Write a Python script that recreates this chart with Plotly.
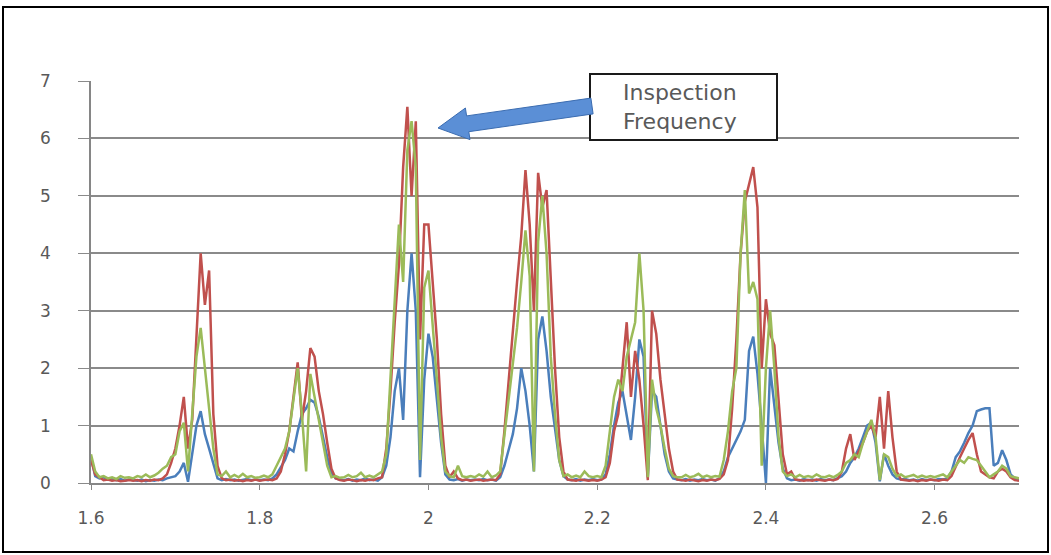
import numpy as np
import plotly.graph_objects as go

# x grid (frequency), step 0.005 from 1.6 to 2.7
freq = np.round(np.arange(1.6, 2.70001, 0.005), 4)

x_tick_vals = [1.6, 1.8, 2.0, 2.2, 2.4, 2.6]
x_tick_text = ["1.6", "1.8", "2", "2.2", "2.4", "2.6"]
y_tick_vals = [0, 1, 2, 3, 4, 5, 6, 7]

blue = [
    0.45, 0.12, 0.08, 0.10, 0.06, 0.08, 0.05, 0.07, 0.04, 0.06,
    0.05, 0.04, 0.06, 0.03, 0.05, 0.04, 0.06, 0.05, 0.08, 0.10,
    0.12, 0.20, 0.35, 0.02, 0.55, 1.00, 1.25, 0.85, 0.60, 0.35,
    0.08, 0.05, 0.07, 0.05, 0.06, 0.04, 0.05, 0.07, 0.05, 0.06,
    0.05, 0.06, 0.05, 0.08, 0.15, 0.28, 0.40, 0.60, 0.55, 0.90,
    1.20, 1.30, 1.45, 1.40, 1.15, 0.80, 0.45, 0.18, 0.08, 0.06,
    0.05, 0.07, 0.04, 0.06, 0.05, 0.08, 0.05, 0.06, 0.04, 0.10,
    0.30, 0.80, 1.60, 2.00, 1.10, 3.00, 4.00, 3.00, 0.10, 1.80,
    2.60, 2.20, 1.50, 0.70, 0.15, 0.06, 0.05, 0.07, 0.04, 0.06,
    0.05, 0.06, 0.05, 0.07, 0.05, 0.06, 0.04, 0.10, 0.30, 0.60,
    0.85, 1.30, 2.00, 1.60, 1.00, 0.20, 2.50, 2.90, 2.30, 1.50,
    0.90, 0.40, 0.12, 0.06, 0.05, 0.07, 0.04, 0.06, 0.05, 0.07,
    0.05, 0.06, 0.15, 0.50, 1.00, 1.40, 1.60, 1.20, 0.75, 1.50,
    2.50, 2.20, 0.10, 1.60, 1.50, 1.00, 0.50, 0.20, 0.08, 0.06,
    0.05, 0.07, 0.04, 0.06, 0.05, 0.07, 0.05, 0.06, 0.04, 0.08,
    0.20, 0.45, 0.60, 0.75, 0.90, 1.10, 2.30, 2.55, 1.90, 1.00,
    0.00, 2.00, 1.40, 0.70, 0.25, 0.08, 0.05, 0.06, 0.04, 0.07,
    0.05, 0.06, 0.04, 0.07, 0.05, 0.06, 0.05, 0.08, 0.12, 0.20,
    0.35, 0.45, 0.60, 0.80, 1.00, 1.05, 0.70, 0.03, 0.50, 0.30,
    0.15, 0.08, 0.06, 0.07, 0.05, 0.06, 0.04, 0.07, 0.05, 0.06,
    0.05, 0.07, 0.06, 0.08, 0.20, 0.45, 0.55, 0.70, 0.87, 1.00,
    1.25, 1.28, 1.30, 1.30, 0.30, 0.35, 0.57, 0.40, 0.15, 0.08,
    0.05,
]

red = [
    0.40, 0.15, 0.10, 0.05, 0.06, 0.04, 0.05, 0.03, 0.04, 0.05,
    0.04, 0.05, 0.03, 0.05, 0.04, 0.06, 0.05, 0.08, 0.15, 0.35,
    0.60, 1.00, 1.50, 0.60, 1.10, 2.60, 4.00, 3.10, 3.70, 1.20,
    0.30, 0.08, 0.05, 0.06, 0.04, 0.05, 0.03, 0.05, 0.04, 0.06,
    0.04, 0.05, 0.06, 0.05, 0.08, 0.20, 0.50, 0.90, 1.50, 2.10,
    1.10, 1.60, 2.35, 2.20, 1.60, 1.20, 0.70, 0.25, 0.08, 0.05,
    0.04, 0.06, 0.05, 0.03, 0.05, 0.04, 0.06, 0.05, 0.08, 0.10,
    0.60, 1.60, 2.80, 3.80, 5.50, 6.55, 5.00, 6.30, 2.50, 4.50,
    4.50, 3.50, 2.50, 1.20, 0.30, 0.10, 0.20, 0.08, 0.05, 0.06,
    0.04, 0.05, 0.06, 0.04, 0.05, 0.06, 0.05, 0.15, 0.90, 1.80,
    2.60, 3.50, 4.30, 5.45, 4.50, 3.00, 5.40, 4.80, 5.10, 3.50,
    2.00, 0.80, 0.20, 0.06, 0.05, 0.04, 0.06, 0.05, 0.04, 0.05,
    0.04, 0.06, 0.10, 0.35, 0.90, 1.20, 2.00, 2.80, 1.50, 2.30,
    1.80, 1.00, 0.05, 3.00, 2.60, 1.80, 1.20, 0.60, 0.20, 0.06,
    0.05, 0.04, 0.06, 0.05, 0.03, 0.05, 0.04, 0.06, 0.05, 0.07,
    0.15, 0.40, 1.30, 2.50, 4.00, 4.90, 5.20, 5.50, 4.80, 2.00,
    3.20, 2.60, 2.40, 1.40, 0.50, 0.15, 0.20, 0.06, 0.05, 0.04,
    0.05, 0.04, 0.06, 0.05, 0.04, 0.06, 0.05, 0.07, 0.20, 0.60,
    0.85, 0.40, 0.55, 0.70, 0.90, 1.00, 0.80, 1.50, 0.60, 1.60,
    0.80, 0.20, 0.06, 0.05, 0.04, 0.05, 0.03, 0.05, 0.04, 0.06,
    0.05, 0.04, 0.06, 0.05, 0.12, 0.30, 0.45, 0.60, 0.75, 0.87,
    0.50, 0.20, 0.15, 0.10, 0.08, 0.20, 0.25, 0.20, 0.10, 0.05,
    0.04,
]

green = [
    0.50, 0.20, 0.10, 0.12, 0.08, 0.10, 0.07, 0.12, 0.09, 0.10,
    0.08, 0.12, 0.10, 0.15, 0.10, 0.13, 0.18, 0.25, 0.30, 0.45,
    0.50, 0.90, 1.05, 0.20, 1.20, 2.20, 2.70, 2.00, 1.30, 0.60,
    0.15, 0.12, 0.20, 0.10, 0.14, 0.10, 0.16, 0.10, 0.12, 0.09,
    0.10, 0.13, 0.10, 0.15, 0.30, 0.45, 0.60, 0.90, 1.50, 2.00,
    1.20, 0.20, 1.90, 1.50, 1.10, 0.70, 0.30, 0.10, 0.12, 0.09,
    0.10, 0.14, 0.10, 0.12, 0.18, 0.10, 0.13, 0.10, 0.15, 0.20,
    0.50, 1.80, 3.20, 4.50, 3.50, 5.80, 6.30, 5.50, 0.40, 3.40,
    3.70, 2.80, 1.80, 0.80, 0.20, 0.12, 0.10, 0.30, 0.12, 0.10,
    0.12, 0.10, 0.15, 0.11, 0.20, 0.10, 0.13, 0.20, 0.80, 1.50,
    2.00, 2.70, 3.50, 4.40, 3.60, 0.20, 4.20, 5.00, 4.00, 2.20,
    1.20, 0.40, 0.12, 0.15, 0.10, 0.13, 0.10, 0.20, 0.12, 0.10,
    0.12, 0.10, 0.30, 0.90, 1.50, 1.80, 1.60, 2.20, 2.50, 2.80,
    4.00, 3.00, 0.10, 1.80, 1.30, 1.00, 0.60, 0.25, 0.12, 0.10,
    0.10, 0.14, 0.10, 0.12, 0.16, 0.10, 0.13, 0.10, 0.12, 0.11,
    0.40, 0.90, 1.60, 2.00, 4.00, 5.10, 3.30, 3.50, 3.20, 0.30,
    2.00, 3.00, 2.00, 0.80, 0.20, 0.12, 0.15, 0.10, 0.14, 0.10,
    0.12, 0.10, 0.15, 0.11, 0.10, 0.13, 0.10, 0.14, 0.20, 0.35,
    0.40, 0.50, 0.45, 0.70, 0.90, 1.10, 0.80, 0.05, 0.50, 0.45,
    0.25, 0.12, 0.15, 0.10, 0.12, 0.14, 0.10, 0.13, 0.10, 0.12,
    0.10, 0.12, 0.15, 0.10, 0.20, 0.30, 0.40, 0.35, 0.45, 0.42,
    0.40, 0.30, 0.20, 0.10, 0.15, 0.20, 0.30, 0.25, 0.12, 0.10,
    0.08,
]

fig = go.Figure()
for ys, col in [(blue, "#4a7ebb"), (red, "#c0504d"), (green, "#9bbb59")]:
    fig.add_trace(go.Scatter(x=freq, y=ys, mode="lines",
                             line=dict(color=col, width=2.5), showlegend=False,
                             hoverinfo="skip"))

W, H = 1051, 555
L, R, T, B = 91, 1019, 81, 483
pw, ph = R - L, B - T


def px(xp):
    return (xp - L) / pw


def py(yp):
    return (B - yp) / ph


# pixel -> data helpers for the decorative arrow
def dx(xp):
    return 1.6 + (xp - L) / pw * 1.1


def dy(yp):
    return (B - yp) / ph * 7


arrow_pts = [(438, 128), (465.4, 108.0), (466.6, 115.9), (590.9, 98.1),
             (593.1, 113.9), (468.8, 131.7), (470.0, 139.6)]
path = "M " + " L ".join(f"{dx(a):.5f},{dy(b):.5f}" for a, b in arrow_pts) + " Z"

shapes = [
    # outer frame
    dict(type="rect", xref="paper", yref="paper",
         x0=px(3), x1=px(1048), y0=py(552), y1=py(7),
         line=dict(color="#000000", width=2), fillcolor="rgba(0,0,0,0)",
         layer="below"),
    # callout box
    dict(type="rect", xref="paper", yref="paper",
         x0=px(590), x1=px(777), y0=py(140), y1=py(74),
         line=dict(color="#1a1a1a", width=2), fillcolor="white", layer="above"),
    # arrow
    dict(type="path", xref="x", yref="y", path=path,
         fillcolor="#5b8fd6", line=dict(color="#3b6cb0", width=1), layer="above"),
]

fig.update_layout(
    width=W, height=H,
    margin=dict(l=L, r=W - R, t=T, b=H - B, pad=0),
    paper_bgcolor="white", plot_bgcolor="white",
    shapes=shapes,
    annotations=[dict(
        xref="paper", yref="paper", x=px(680), y=py(107),
        text="Inspection<br>Frequency", showarrow=False, align="left",
        xanchor="center", yanchor="middle",
        font=dict(family="DejaVu Sans", size=22, color="#595959"))],
    xaxis=dict(range=[1.6, 2.7], tickvals=x_tick_vals, ticktext=x_tick_text,
               showgrid=False, zeroline=False, showline=True,
               linecolor="#868686", linewidth=1.5,
               ticks="outside", ticklen=5, tickcolor="#868686",
               ticklabelstandoff=14,
               tickfont=dict(family="DejaVu Sans", size=17, color="#595959")),
    yaxis=dict(range=[0, 7], tickvals=y_tick_vals,
               showgrid=True, gridcolor="#8a8a8a", gridwidth=1.5,
               zeroline=False, showline=True, linecolor="#868686", linewidth=1.5,
               ticks="outside", ticklen=11, tickcolor="#8a8a8a",
               ticklabelstandoff=24,
               tickfont=dict(family="DejaVu Sans", size=17, color="#595959")),
)

fig.write_html("out.html")
